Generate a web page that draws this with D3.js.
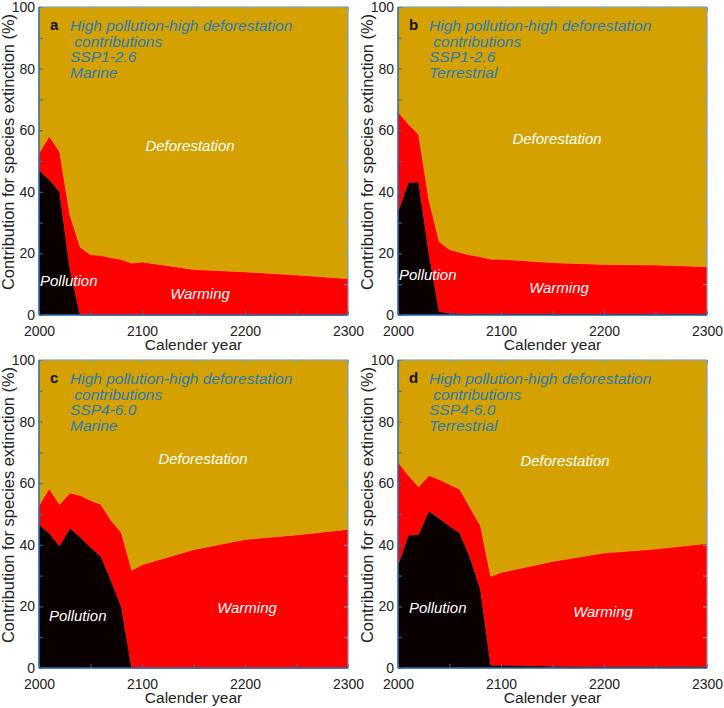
<!DOCTYPE html>
<html>
<head>
<meta charset="utf-8">
<script src="https://cdn.jsdelivr.net/npm/d3@7/dist/d3.min.js"></script>
<style>
  html, body { margin: 0; padding: 0; background: #fff; }
  svg { display: block; font-family: "Liberation Sans", Arial, sans-serif; }
</style>
</head>
<body>
<svg id="chart" width="724" height="708"></svg>
<script>
// ---- data ----
const years = [2000, 2010, 2020, 2030, 2040, 2050, 2060, 2070, 2080, 2090, 2100, 2150, 2200, 2250, 2300];

const aPollution = [47, 44, 40, 15, 0, 0, 0, 0, 0, 0, 0, 0, 0, 0, 0];
const aWarming   = [5.5, 14, 13, 17.5, 22, 19.6, 19.3, 18.6, 18, 16.8, 17.2, 14.8, 14, 13, 11.8];
const aDeforest  = [47.5, 42, 47, 67.5, 78, 80.4, 80.7, 81.4, 82, 83.2, 82.8, 85.2, 86, 87, 88.2];

const bPollution = [33.5, 43, 43.2, 20, 1.1, 0.6, 0.5, 0.4, 0.4, 0.4, 0.4, 0.4, 0.4, 0.4, 0.4];
const bWarming   = [32.5, 19, 15.4, 17.3, 22.7, 20.7, 19.8, 19.1, 18.5, 17.7, 17.7, 16.6, 16, 15.8, 15.3];
const bDeforest  = [34, 38, 41.4, 62.7, 76.2, 78.7, 79.7, 80.5, 81.1, 81.9, 81.9, 83, 83.6, 83.8, 84.3];

const cPollution = [46.6, 43.8, 39.6, 45.5, 42.5, 39.2, 36.3, 28.4, 19.8, 0, 0, 0, 0, 0, 0];
const cWarming   = [6.2, 14.4, 13.5, 11.3, 13.5, 15.2, 16.8, 19.5, 24.1, 31.7, 33.5, 38.4, 41.7, 43.2, 45];
const cDeforest  = [47.2, 41.8, 46.9, 43.2, 44, 45.6, 46.9, 52.1, 56.1, 68.3, 66.5, 61.6, 58.3, 56.8, 55];

const dPollution = [33.4, 43.1, 43.4, 51, 48.6, 46.1, 43.8, 35.9, 25.6, 0.9, 0.9, 0.6, 0.5, 0.5, 0.5];
const dWarming   = [33.4, 19.5, 15.4, 11.5, 12.6, 13.5, 14.2, 16.1, 20.7, 28.8, 30.1, 34, 36.8, 38.1, 39.9];
const dDeforest  = [33.2, 37.4, 41.2, 37.5, 38.8, 40.4, 42, 48, 53.7, 70.3, 69, 65.4, 62.7, 61.4, 59.6];

const seriesKeys = ["Pollution", "Warming", "Deforestation"];
const xTicks = [2000, 2100, 2200, 2300];
const xMinorTicks = [2000, 2050, 2100, 2150, 2200, 2250, 2300];
const yTicks = [0, 20, 40, 60, 80, 100];
const yMinorTicks = [0, 10, 20, 30, 40, 50, 60, 70, 80, 90, 100];

const titleLine1 = "High pollution-high deforestation";
const titleLine2 = " contributions";
const panelInfo = [
  { letter: "a", scen: "SSP1-2.6", realm: "Marine",      p: aPollution, w: aWarming, d: aDeforest },
  { letter: "b", scen: "SSP1-2.6", realm: "Terrestrial", p: bPollution, w: bWarming, d: bDeforest },
  { letter: "c", scen: "SSP4-6.0", realm: "Marine",      p: cPollution, w: cWarming, d: cDeforest },
  { letter: "d", scen: "SSP4-6.0", realm: "Terrestrial", p: dPollution, w: dWarming, d: dDeforest }
];

// ---- layout / style ----
const layout = [
  { left: 39,  top: 7 ,
    labels: { def: [190, 151], pol: [40, 286, "start"], warm: [200, 299, "middle"] } },
  { left: 398, top: 7,
    labels: { def: [557, 144], pol: [399, 280, "start"], warm: [559, 293, "middle"] } },
  { left: 39,  top: 360,
    labels: { def: [203, 464], pol: [49, 621, "start"], warm: [247, 613, "middle"] } },
  { left: 398, top: 360,
    labels: { def: [565, 466], pol: [409, 613, "start"], warm: [603, 617, "middle"] } }
];
const W = 309, H = 308;
const colors = { Pollution: "#0a0000", Warming: "#ff0000", Deforestation: "#d4a100" };
const frameDark = "#2f6db5";
const frameLight = "#6ea5da";
const titleColor = "#2a7ab8";

const svg = d3.select("#chart");

panelInfo.forEach((info, i) => {
  const L = layout[i];
  const g = svg.append("g").attr("transform", `translate(${L.left},${L.top})`);
  const x = d3.scaleLinear().domain([2000, 2300]).range([0, W]);
  const y = d3.scaleLinear().domain([0, 100]).range([H, 0]);

  const table = years.map((yr, k) => ({
    year: yr, Pollution: info.p[k], Warming: info.w[k], Deforestation: info.d[k]
  }));
  const stacked = d3.stack().keys(seriesKeys)(table);
  const area = d3.area()
    .x(d => x(d.data.year))
    .y0(d => y(d[0]))
    .y1(d => y(d[1]));

  g.selectAll("path.layer").data(stacked).join("path")
    .attr("class", "layer")
    .attr("fill", d => colors[d.key])
    .attr("stroke", d => colors[d.key])
    .attr("stroke-width", 0.5)
    .attr("d", area);

  // axes with inward ticks
  const tickLen = 4;
  const bottom = g.append("g").attr("transform", `translate(0,${H})`)
    .call(d3.axisTop(x).tickValues(xMinorTicks).tickSize(tickLen).tickFormat(""));
  const top = g.append("g")
    .call(d3.axisBottom(x).tickValues(xMinorTicks).tickSize(tickLen).tickFormat(""));
  const left = g.append("g")
    .call(d3.axisRight(y).tickValues(yMinorTicks).tickSize(tickLen).tickFormat(""));
  const right = g.append("g").attr("transform", `translate(${W},0)`)
    .call(d3.axisLeft(y).tickValues(yMinorTicks).tickSize(tickLen).tickFormat(""));
  [[bottom, frameDark], [top, frameLight], [left, frameDark], [right, frameLight]].forEach(([a, c]) => {
    a.select(".domain").remove();
    a.selectAll("line").attr("stroke", c).attr("stroke-width", 1);
  });

  // tick labels
  const xl = g.append("g").attr("transform", `translate(0,${H})`)
    .call(d3.axisBottom(x).tickValues(xTicks).tickSize(0).tickPadding(11).tickFormat(d3.format("d")));
  xl.select(".domain").remove();
  xl.selectAll("text").attr("font-size", 14).attr("fill", "#222")
    .attr("font-family", "Liberation Sans, Arial, sans-serif");
  const yl = g.append("g")
    .call(d3.axisLeft(y).tickValues(yTicks).tickSize(0).tickPadding(4));
  yl.select(".domain").remove();
  yl.selectAll("text").attr("font-size", 14).attr("fill", "#222")
    .attr("font-family", "Liberation Sans, Arial, sans-serif");

  // frame
  g.append("line").attr("x1", 0).attr("x2", W).attr("y1", 0).attr("y2", 0).attr("stroke", frameLight);
  g.append("line").attr("x1", W).attr("x2", W).attr("y1", 0).attr("y2", H).attr("stroke", frameLight);
  g.append("line").attr("x1", 0).attr("x2", 0).attr("y1", 0).attr("y2", H).attr("stroke", frameDark).attr("stroke-width", 1.5);
  g.append("line").attr("x1", 0).attr("x2", W).attr("y1", H).attr("y2", H).attr("stroke", frameDark).attr("stroke-width", 1.5);

  // axis titles
  g.append("text").attr("x", W / 2).attr("y", H + 35).attr("text-anchor", "middle")
    .attr("font-size", 15.5).attr("fill", "#222").text("Calender year");
  g.append("text")
    .attr("transform", `translate(${-25},${H / 2 - 9}) rotate(-90)`)
    .attr("text-anchor", "middle").attr("font-size", 16.4).attr("fill", "#222")
    .text("Contribution for species extinction (%)");

  // panel letter and title
  g.append("text").attr("x", 11).attr("y", 23).attr("font-size", 15)
    .attr("font-weight", "bold").attr("fill", "#111").text(info.letter);
  const tg = g.append("g").attr("font-size", 15.5).attr("font-style", "italic").attr("fill", titleColor);
  [titleLine1, titleLine2, info.scen, info.realm].forEach((t, k) => {
    tg.append("text").attr("x", 31).attr("y", 24 + k * 15.5)
      .attr("xml:space", "preserve").style("white-space", "pre").text(t);
  });

  // in-plot series labels
  const lab = L.labels;
  const lg = svg.append("g").attr("font-size", 15).attr("font-style", "italic").attr("fill", "#fff");
  lg.append("text").attr("x", lab.def[0]).attr("y", lab.def[1]).attr("text-anchor", "middle").text("Deforestation");
  lg.append("text").attr("x", lab.pol[0]).attr("y", lab.pol[1]).attr("text-anchor", lab.pol[2]).text("Pollution");
  lg.append("text").attr("x", lab.warm[0]).attr("y", lab.warm[1]).attr("text-anchor", lab.warm[2]).text("Warming");
});
</script>
</body>
</html>
